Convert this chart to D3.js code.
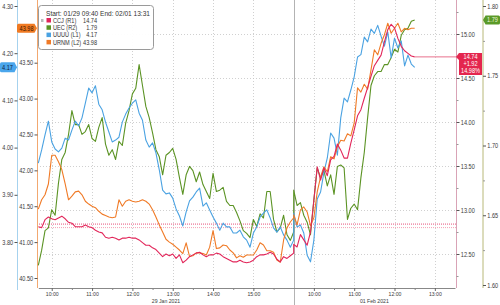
<!DOCTYPE html>
<html><head><meta charset="utf-8">
<script src="https://cdn.jsdelivr.net/npm/d3@7"></script>
<style>
html,body{margin:0;padding:0;background:#fff;}
svg{display:block;}
</style></head><body>
<svg id="c" width="500" height="305"></svg>
<script>
// ---------------- DATA ----------------
const days = ["2021-01-29", "2021-02-01"];
const dayLabels = ["29 Jan 2021", "01 Feb 2021"];
const sessionBounds = [["09:40", "16:00"], ["09:30", "13:30"]];
const day1Times = ["09:40","09:45","09:50","09:55","10:00","10:05","10:10","10:15","10:20","10:25",
  "10:30","10:35","10:40","10:45","10:50","10:55","11:00","11:05","11:10","11:15",
  "11:20","11:25","11:30","11:35","11:40","11:45","11:50","11:55","12:00","12:05",
  "12:10","12:15","12:20","12:25","12:30","12:35","12:40","12:45","12:50","12:55",
  "13:00","13:05","13:10","13:15","13:20","13:25","13:30","13:35","13:40","13:45",
  "13:50","13:55","14:00","14:05","14:10","14:15","14:20","14:25","14:30","14:35",
  "14:40","14:45","14:50","14:55","15:00","15:05","15:10","15:15","15:20","15:25",
  "15:30","15:35","15:40","15:45","15:50","15:55","16:00"];
const day2Times = ["09:30","09:35","09:40","09:45","09:50","09:55","10:00","10:05","10:10","10:15",
  "10:20","10:25","10:30","10:35","10:40","10:45","10:50","10:55","11:00","11:05",
  "11:10","11:15","11:20","11:25","11:30","11:35","11:40","11:45","11:50","11:55",
  "12:00","12:05","12:10","12:15","12:20","12:25","12:30"];

// CCJ (R1)
const ccjValues = [
  12.81,12.80,12.89,12.92,12.90,12.89,12.91,12.93,12.90,12.86,
  12.85,12.81,12.81,12.81,12.83,12.81,12.80,12.77,12.75,12.74,
  12.69,12.68,12.69,12.68,12.66,12.68,12.68,12.69,12.68,12.68,
  12.66,12.63,12.60,12.60,12.57,12.55,12.51,12.47,12.50,12.48,
  12.50,12.45,12.49,12.40,12.43,12.47,12.49,12.51,12.52,12.49,
  12.47,12.49,12.49,12.51,12.50,12.47,12.45,12.43,12.41,12.41,
  12.43,12.41,12.40,12.41,12.43,12.47,12.49,12.49,12.50,12.52,
  12.50,12.44,12.41,12.47,12.45,12.48,12.51,
  12.61,12.58,12.72,12.66,12.60,12.75,13.11,13.49,13.34,13.48,
  13.39,13.57,13.61,13.75,13.68,13.59,13.59,13.76,13.91,14.07,
  14.14,14.27,14.39,14.52,14.64,14.70,14.76,14.91,15.05,15.11,
  15.07,14.95,14.86,14.81,14.78,14.75,14.74];
// UEC (R2)
const uecValues = [
  1.614,1.625,1.639,1.641,1.654,1.650,1.673,1.690,1.695,1.708,
  1.725,1.715,1.715,1.708,1.710,1.715,1.705,1.703,1.713,1.720,
  1.701,1.693,1.697,1.690,1.703,1.700,1.716,1.725,1.737,1.741,
  1.758,1.743,1.728,1.720,1.709,1.697,1.692,1.679,1.693,1.695,
  1.698,1.690,1.677,1.665,1.679,1.685,1.682,1.674,1.681,1.672,
  1.667,1.662,1.680,1.667,1.668,1.670,1.660,1.657,1.657,1.652,
  1.646,1.639,1.637,1.634,1.647,1.642,1.651,1.648,1.667,1.667,
  1.647,1.638,1.641,1.650,1.636,1.632,1.638,
  1.668,1.657,1.659,1.650,1.645,1.636,1.661,1.684,1.677,1.682,
  1.671,1.679,1.665,1.685,1.686,1.684,1.647,1.655,1.658,1.654,
  1.677,1.695,1.720,1.743,1.750,1.753,1.753,1.758,1.758,1.763,
  1.769,1.767,1.779,1.783,1.784,1.789,1.790];
// UUUU (L1)
const uuuuValues = [
  3.967,3.995,4.027,4.056,4.012,3.997,3.991,3.999,4.020,4.016,
  4.037,4.056,4.046,4.063,4.094,4.126,4.116,4.131,4.092,4.080,
  4.054,4.033,4.012,4.016,4.022,4.054,4.071,4.084,4.094,4.101,
  4.073,4.058,4.016,4.001,4.010,3.989,3.953,3.910,3.902,3.904,
  3.893,3.870,3.855,3.834,3.864,3.887,3.895,3.906,3.914,3.876,
  3.883,3.868,3.853,3.840,3.825,3.840,3.832,3.832,3.819,3.819,
  3.825,3.811,3.804,3.789,3.819,3.832,3.853,3.861,3.868,3.851,
  3.830,3.821,3.832,3.815,3.804,3.789,3.804,
  3.861,3.832,3.836,3.819,3.772,3.758,3.804,3.891,3.906,3.948,
  3.978,4.031,4.020,3.984,4.063,4.105,4.097,4.122,4.150,4.192,
  4.197,4.234,4.224,4.251,4.242,4.259,4.236,4.215,4.245,4.190,
  4.232,4.211,4.226,4.173,4.196,4.177,4.170];
// URNM (L2)
const urnmValues = [
  41.46,41.59,41.66,41.81,42.21,42.21,42.12,42.01,41.81,41.59,
  41.64,41.70,41.71,41.66,41.57,41.53,41.50,41.48,41.43,41.39,
  41.37,41.35,41.34,41.35,41.59,41.50,41.57,41.59,41.57,41.56,
  41.57,41.59,41.57,41.53,41.45,41.35,41.24,41.14,41.04,41.00,
  40.97,40.93,40.89,40.84,40.99,40.80,40.81,40.85,40.85,40.84,
  40.82,40.93,41.16,40.91,40.92,40.96,40.95,40.89,40.85,40.78,
  40.81,40.79,40.82,40.82,40.82,40.89,40.99,40.96,40.88,40.88,
  40.86,40.75,40.72,41.03,41.20,41.28,41.34,
  41.38,41.24,41.45,41.49,41.42,41.23,41.34,41.70,41.91,42.05,
  41.98,42.19,42.16,42.33,42.42,42.41,42.51,42.48,42.66,43.15,
  43.09,43.20,43.13,43.40,43.68,43.61,43.77,43.89,44.05,43.91,
  43.98,44.05,43.93,43.98,43.96,43.98,43.98];

const ccjPrevClose = 12.82;
const refLines = [12.84, 12.80];
const legendHeader = "Start: 01/29 09:40 End: 02/01 13:31";
const seriesNames = ["CCJ (R1)", "UEC (R2)", "UUUU (L1)", "URNM (L2)"];
const l1Ticks = [3.8, 3.9, 4.0, 4.1, 4.2, 4.3];
const l2Ticks = [40.5, 41.0, 41.5, 42.0, 42.5, 43.0, 43.5];
const r1Ticks = [12.5, 13.0, 13.5, 14.0, 14.5, 15.0];
const r1Minor = [12.25, 12.75, 13.25, 13.75, 14.25, 14.75, 15.25];
const r2Ticks = [1.60, 1.65, 1.70, 1.75, 1.80];
const r2Minor = [1.625, 1.675, 1.725, 1.775];
const xMajor = [["10:00","11:00","12:00","13:00","14:00","15:00"], ["10:00","11:00","12:00","13:00"]];
const xMinor = [["10:30","11:30","12:30","13:30","14:30","15:30"], ["10:30","11:30","12:30"]];

// ---------------- CHART ----------------
const FONT = '"Liberation Sans","DejaVu Sans",sans-serif';
const SX = 0.86;   // horizontal condensing of the narrow chart font
const colors = {ccj:"#e2265a", uec:"#5b9324", uuuu:"#4aa2e2", urnm:"#f07a26"};
const plotL = 37, plotR = 456, plotB = 288;
const parse = d3.timeParse("%Y-%m-%d %H:%M");
const at = (d, t) => parse(days[d] + " " + t);
const times = day1Times.map(t => at(0, t)).concat(day2Times.map(t => at(1, t)));

const x = d3.scaleTime()
  .domain([at(0, sessionBounds[0][0]), at(0, sessionBounds[0][1]), at(1, sessionBounds[1][0]), at(1, sessionBounds[1][1])])
  .range([38.3, 293.7, 293.7, 455]);
const yL1 = d3.scaleLinear().domain([3.8, 4.3]).range([242, 6]);
const yL2 = d3.scaleLinear().domain([40.5, 43.5]).range([278, 62.7]);
const yR1 = d3.scaleLinear().domain([12.5, 15.0]).range([254, 34]);
const yR2 = d3.scaleLinear().domain([1.60, 1.80]).range([285, 6]);

const svg = d3.select("#c").style("font-family", FONT);
const f2 = d3.format(".2f");

function ntext(parent, tx, ty, str, anchor, size, fill) {
  const g = parent.append("g").attr("transform", `translate(${tx},${ty}) scale(${SX},1)`);
  return g.append("text").attr("x", 0).attr("y", 0).attr("text-anchor", anchor || "start")
    .attr("fill", fill || "#333").style("font-size", (size || 6.5) + "px").text(str);
}

// grid
const grid = svg.append("g").attr("stroke", "#c4c4c4").attr("stroke-dasharray", "1,2").attr("stroke-width", 0.8);
grid.selectAll("line.h").data(r1Ticks).join("line")
  .attr("x1", plotL).attr("x2", plotR).attr("y1", d => Math.round(yR1(d)) + 0.5).attr("y2", d => Math.round(yR1(d)) + 0.5);
const vDates = xMajor[0].map(t => at(0, t)).concat(xMajor[1].map(t => at(1, t)));
grid.selectAll("line.v").data(vDates).join("line")
  .attr("x1", d => Math.round(x(d)) + 0.5).attr("x2", d => Math.round(x(d)) + 0.5).attr("y1", 0).attr("y2", plotB);

// reference lines (previous close)
svg.append("g").selectAll("line").data(refLines).join("line")
  .attr("x1", plotL).attr("x2", plotR)
  .attr("y1", d => yR1(d)).attr("y2", d => yR1(d))
  .attr("stroke", (d, i) => i === 0 ? "#e2265a" : "#f08aa0")
  .attr("stroke-dasharray", "1,1").attr("stroke-width", 0.8);

// session break
const breakX = Math.round(x(at(1, sessionBounds[1][0]))) + 0.5;
svg.append("line").attr("x1", breakX).attr("x2", breakX).attr("y1", 0).attr("y2", 305)
  .attr("stroke", "#a0a0a0").attr("stroke-width", 0.8);

// axis lines
const axisLine = (x0, y0, y1, c) => svg.append("line").attr("x1", x0).attr("x2", x0).attr("y1", y0).attr("y2", y1).attr("stroke", c).attr("stroke-width", 1);
axisLine(17.5, 0, 290, "#a6d2ee");
axisLine(37.5, 0, plotB, "#f2a870");
axisLine(456.5, 0, plotB, "#d9a3b6");
axisLine(483, 0, 288, "#b8b878");

function styleAxis(g, lineColor) {
  g.select(".domain").remove();
  g.selectAll(".tick line").attr("stroke", lineColor || "#555");
  g.selectAll(".tick text").attr("fill", "#3a3a3a").style("font-size", "6.5px").style("font-family", FONT)
    .attr("transform", `scale(${SX},1)`);
}
svg.append("g").attr("transform", "translate(17.5,0)")
  .call(d3.axisLeft(yL1).tickValues(l1Ticks).tickFormat(f2).tickSize(3).tickPadding(2))
  .call(g => styleAxis(g));
svg.append("g").attr("transform", "translate(37.5,0)")
  .call(d3.axisLeft(yL2).tickValues(l2Ticks).tickFormat(f2).tickSize(3).tickPadding(2))
  .call(g => styleAxis(g));
svg.append("g").attr("transform", "translate(456.5,0)")
  .call(d3.axisRight(yR1).tickValues(r1Ticks).tickFormat(f2).tickSize(3).tickPadding(2))
  .call(g => styleAxis(g));
svg.append("g").attr("transform", "translate(456.5,0)")
  .call(d3.axisRight(yR1).tickValues(r1Minor.filter(v => yR1(v) > 0 && yR1(v) < plotB)).tickFormat("").tickSize(2))
  .call(g => styleAxis(g, "#999"));
svg.append("g").attr("transform", "translate(483,0)")
  .call(d3.axisRight(yR2).tickValues(r2Ticks).tickFormat(f2).tickSize(3).tickPadding(2))
  .call(g => styleAxis(g));
svg.append("g").attr("transform", "translate(483,0)")
  .call(d3.axisRight(yR2).tickValues(r2Minor).tickFormat("").tickSize(2))
  .call(g => styleAxis(g, "#999"));

// x axis
const xg = svg.append("g").attr("transform", `translate(0,${plotB})`)
  .call(d3.axisBottom(x).tickValues(vDates).tickFormat(d3.timeFormat("%H:%M")).tickSize(3).tickSizeOuter(0).tickPadding(0.6));
xg.select(".domain").attr("stroke", "#888");
xg.selectAll(".tick line").attr("stroke", "#666");
xg.selectAll(".tick text").attr("fill", "#3a3a3a").style("font-size", "6px").style("font-family", FONT)
  .attr("transform", `scale(${SX},1)`);
const minorDates = xMinor[0].map(t => at(0, t)).concat(xMinor[1].map(t => at(1, t)));
svg.append("g").attr("transform", `translate(0,${plotB})`)
  .call(d3.axisBottom(x).tickValues(minorDates).tickFormat("").tickSize(2).tickSizeOuter(0))
  .call(g => { g.select(".domain").remove(); g.selectAll(".tick line").attr("stroke", "#888"); });
const dateG = svg.append("g");
[0, 1].forEach(d => {
  ntext(dateG, (x(at(d, sessionBounds[d][0])) + x(at(d, sessionBounds[d][1]))) / 2, 302.6, dayLabels[d], "middle", 6, "#3a3a3a");
});

// lines
const series = [
  {key:"uec", values: uecValues, y: yR2},
  {key:"uuuu", values: uuuuValues, y: yL1},
  {key:"urnm", values: urnmValues, y: yL2},
  {key:"ccj", values: ccjValues, y: yR1}
];
series.forEach(s => {
  svg.append("path").datum(s.values)
    .attr("fill", "none").attr("stroke", colors[s.key]).attr("stroke-width", 1.1)
    .attr("stroke-linejoin", "round")
    .attr("d", d3.line().x((d, i) => x(times[i])).y(d => s.y(d)));
});

// CCJ last value line
const ccjLast = ccjValues[ccjValues.length - 1];
svg.append("line").attr("x1", x(times[times.length - 1])).attr("x2", plotR)
  .attr("y1", yR1(ccjLast)).attr("y2", yR1(ccjLast)).attr("stroke", "#e8708c").attr("stroke-width", 1);

// tags
function tag(x0, x1, yc, h, tip, fill) {
  const p = d3.path(), t = yc - h / 2, b = yc + h / 2;
  if (tip === "right") {
    p.moveTo(x0 + 1.5, t); p.lineTo(x1 - 2.5, t); p.lineTo(x1, yc); p.lineTo(x1 - 2.5, b); p.lineTo(x0 + 1.5, b);
    p.quadraticCurveTo(x0, b, x0, b - 1.5); p.lineTo(x0, t + 1.5); p.quadraticCurveTo(x0, t, x0 + 1.5, t);
  } else {
    p.moveTo(x0 + 2.5, t); p.lineTo(x1 - 1.5, t); p.quadraticCurveTo(x1, t, x1, t + 1.5); p.lineTo(x1, b - 1.5);
    p.quadraticCurveTo(x1, b, x1 - 1.5, b); p.lineTo(x0 + 2.5, b); p.lineTo(x0, yc);
  }
  p.closePath();
  svg.append("path").attr("d", p.toString()).attr("fill", fill);
}
const uuuuLast = uuuuValues[uuuuValues.length - 1];
tag(0, 17, yL1(uuuuLast), 10, "right", "#4aa6ec");
ntext(svg, 7.5, yL1(uuuuLast) + 2.3, f2(uuuuLast), "middle", 6.5, "#10243c");
const urnmLast = urnmValues[urnmValues.length - 1];
tag(17, 37, yL2(urnmLast), 9, "right", "#f07a22");
ntext(svg, 26.5, yL2(urnmLast) + 2.3, f2(urnmLast), "middle", 6.5, "#3a1600");
const uecLast = uecValues[uecValues.length - 1];
tag(483, 500, yR2(uecLast), 9, "left", "#5a9a28");
ntext(svg, 492.5, yR2(uecLast) + 2.3, f2(uecLast), "middle", 6.5, "#eef8d8");
// CCJ tag (3 lines)
{
  const yc = yR1(ccjLast), p = d3.path();
  p.moveTo(456, yc); p.lineTo(459, yc - 4); p.lineTo(482, yc - 4); p.lineTo(482, yc + 18); p.lineTo(459, yc + 18); p.lineTo(459, yc + 3); p.closePath();
  svg.append("path").attr("d", p.toString()).attr("fill", "#e4264e");
  const chg = ccjLast - ccjPrevClose;
  const lines = [f2(ccjLast), (chg >= 0 ? "+" : "") + f2(chg), f2(chg / ccjPrevClose * 100) + "%"];
  lines.forEach((s, i) => ntext(svg, 470.5, yc + 2.2 + i * 7.2, s, "middle", 6.5, "#fff"));
}

// legend
const lg = svg.append("g");
lg.append("rect").attr("x", 38.5).attr("y", 5.5).attr("width", 115).attr("height", 44).attr("rx", 3)
  .attr("fill", "#fff").attr("fill-opacity", 0.95).attr("stroke", "#9a9a9a").attr("stroke-width", 1);
lg.append("text").attr("x", 46).attr("y", 16).attr("fill", "#333").style("font-size", "6.5px")
  .attr("textLength", 104).attr("lengthAdjust", "spacingAndGlyphs").text(legendHeader);
lg.append("rect").attr("x", 41).attr("y", 19).attr("width", 2.5).attr("height", 3).attr("fill", "#bbb");
const legendRows = [
  {name: seriesNames[0], color: colors.ccj, value: f2(ccjLast)},
  {name: seriesNames[1], color: colors.uec, value: f2(uecLast)},
  {name: seriesNames[2], color: colors.uuuu, value: f2(uuuuLast)},
  {name: seriesNames[3], color: colors.urnm, value: f2(urnmLast)}
];
legendRows.forEach((r, i) => {
  const yy = 20.5 + i * 7.3;
  lg.append("rect").attr("x", 46.5).attr("y", yy - 2.5).attr("width", 4.5).attr("height", 4.5).attr("fill", r.color);
  ntext(lg, 53, yy + 2.2, r.name, "start", 6.5, "#333");
  ntext(lg, 97, yy + 2.2, r.value, "end", 6.5, "#333");
});
</script>
</body></html>
